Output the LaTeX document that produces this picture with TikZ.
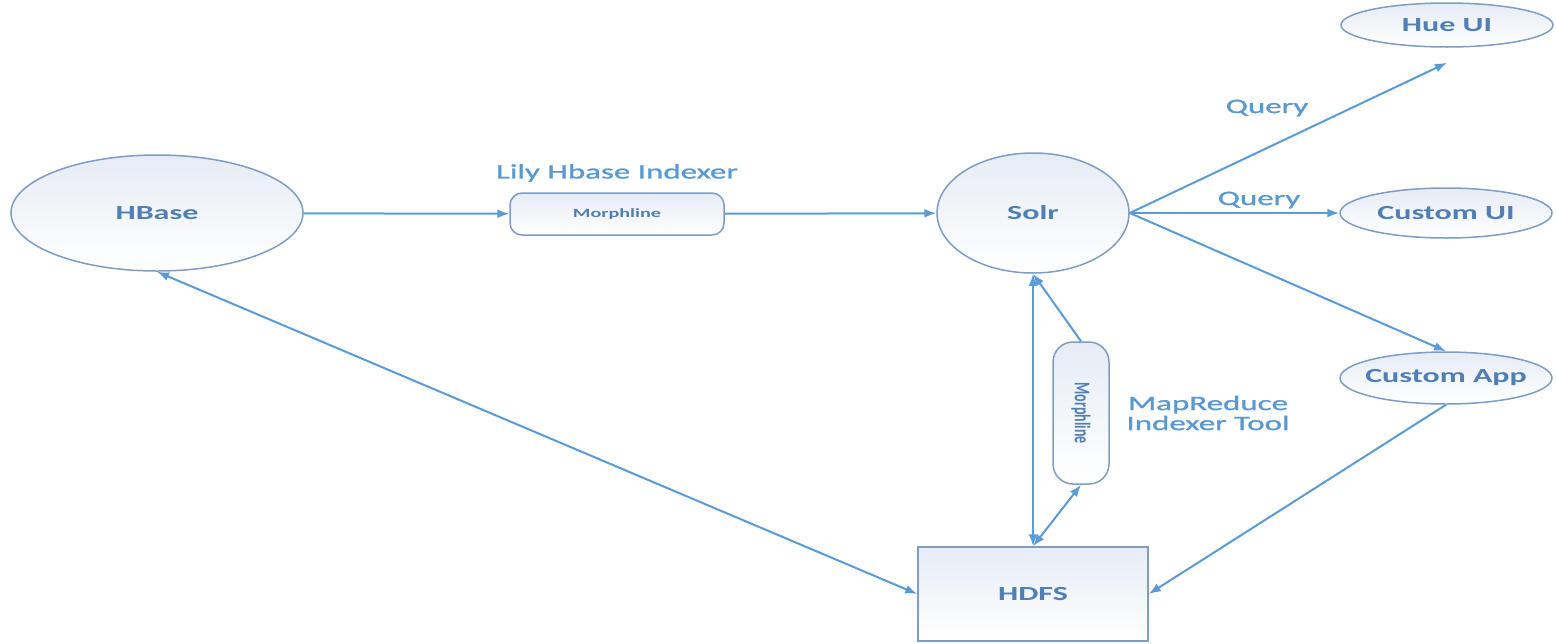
\documentclass[tikz,border=0pt]{standalone}
\usepackage{fontspec}
\setmainfont{Carlito}[FakeStretch=1.6]
\newfontfamily\labelfont{Carlito}[FakeStretch=1.6, FakeBold=1.2]
\newfontfamily\uprightfont{Carlito}
\usetikzlibrary{shapes.geometric,arrows.meta}

\definecolor{linkblue}{HTML}{5B9BD5}
\definecolor{edgeblue}{HTML}{7E9CC4}
\definecolor{nametext}{HTML}{4F7FB5}
\definecolor{labeltext}{HTML}{5A98D2}
\definecolor{shadeblue}{HTML}{E6ECF5}

\tikzset{
  store/.style={draw=edgeblue, line width=0.75pt, top color=shadeblue, bottom color=white,
    inner sep=0pt, text=nametext, font=\fontsize{10}{12}\selectfont\bfseries},
  oval/.style={store, ellipse},
  smalloval/.style={oval, inner xsep=-5pt, minimum width=106pt},
  box/.style={store, rectangle},
  tool/.style={store, rectangle, rounded corners=6pt, font=\fontsize{6.3}{7}\selectfont\bfseries},
  lbl/.style={text=labeltext, font=\labelfont\fontsize{10.3}{12}\selectfont, align=center},
  link/.style={draw=linkblue, line width=1pt}
}

\begin{document}
\begin{tikzpicture}[x=0.5pt, y=-0.5pt, >={Latex[length=6pt,width=4.5pt]}]
\useasboundingbox (0,0) rectangle (1556,643);

\node[oval, minimum width=146pt, minimum height=58pt] (hbase) at (157,213) {HBase};
\node[tool, minimum width=107pt, minimum height=21pt] (morph1) at (617,214) {Morphline};
\node[oval, minimum width=96pt, minimum height=60pt] (solr) at (1033,213) {Solr};

\node[smalloval, minimum height=22pt] (hue) at (1447,25) {Hue UI};
\node[smalloval, minimum height=25pt] (cui) at (1446,213) {Custom UI};
\node[smalloval, minimum height=26pt] (capp) at (1446,378) {Custom App};

\node[box, minimum width=115pt, minimum height=47pt] (hdfs) at (1033,594) {HDFS};
\node[tool, rounded corners=10pt, minimum width=71pt, minimum height=28pt, rotate=-90,
  font=\uprightfont\fontsize{7}{8}\selectfont\bfseries] (morph2) at (1081,413) {\scalebox{1}[1.6]{Morphline}};

\node[lbl] (lily) at (617,173) {Lily Hbase Indexer};
\node[lbl] (mrtool) at (1208,413) {MapReduce\\[-2pt]Indexer Tool};
\node[lbl] (q1) at (1267,108) {Query};
\node[lbl] (q2) at (1259,200) {Query};

\path[link,->] (hbase) -- (morph1);
\path[link,->] (morph1) -- (solr);
\path[link,->] (solr.east) -- ([yshift=-7.5pt]hue.south);
\path[link,->] (solr.east) -- (cui);
\path[link,->] (solr.east) -- (capp.north);
\path[link,->] (capp.south) -- (hdfs.east);
\path[link,<->] (hbase.south) -- (hdfs.west);
\path[link,<->] (solr.south) -- (hdfs.north);
\path[link,<->] (hdfs.north) -- (morph2.east);
\path[link,->] (morph2.west) -- (solr.south);
\end{tikzpicture}
\end{document}
